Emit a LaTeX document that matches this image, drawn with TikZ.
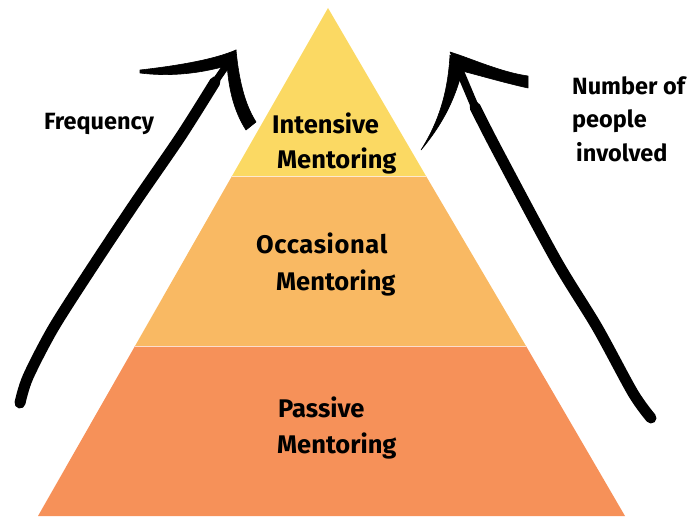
\documentclass[tikz,border=0pt]{standalone}
\usepackage{fontspec}
\setmainfont{Fira Sans}
\definecolor{topc}{RGB}{251,217,99}
\definecolor{midc}{RGB}{249,185,99}
\definecolor{botc}{RGB}{246,145,89}
\tikzset{
  lbl/.style={anchor=base west, inner sep=0pt, font=\fontsize{25.5}{30}\selectfont\bfseries},
  side/.style={anchor=base west, inner sep=0pt, font=\fontsize{23.5}{28}\selectfont\bfseries},
  brush/.style={line width=11pt, line cap=round, line join=round, black},
  barb/.style={fill=black, draw=black, line width=0.6pt, line join=round}
}
\begin{document}
\begin{tikzpicture}[x=1pt,y=-1pt]
\useasboundingbox (0,0) rectangle (687,516);
% pyramid layers
\coordinate (apex) at (328,8);
\coordinate (a1) at (232,176); \coordinate (b1) at (426,176);
\coordinate (a2) at (135,346); \coordinate (b2) at (526,346);
\coordinate (a3) at (38,516); \coordinate (b3) at (625,516);
\fill[topc] (apex) -- (b1) -- (a1) -- cycle;
\fill[midc] (a1) -- (b1) -- (b2) -- (a2) -- cycle;
\fill[botc] (a2) -- (b2) -- (b3) -- (a3) -- cycle;
\draw[white!70!midc, line width=0.8pt] (a1) -- (b1);
\draw[white!70!botc, line width=0.8pt] (a2) -- (b2);
% labels
\node[lbl] (i1) at (272,133) {Intensive};
\node[lbl] (i2) at (277,168) {Mentoring};
\node[lbl] (o1) at (256,253) {\addfontfeatures{LetterSpace=2.5}Occasional};
\node[lbl] (o2) at (276,290) {Mentoring};
\node[lbl] (p1) at (278,417) {Passive};
\node[lbl] (p2) at (277,453) {Mentoring};
\node[side] (fr) at (44,129) {Frequency};
\node[side] (n1) at (572,95) {Number of};
\node[side] (n2) at (572,128) {people};
\node[side] (n3) at (576,161) {involved};
% left arrow
\coordinate (lt) at (20,403);
\coordinate (l1) at (28,377);
\coordinate (l2) at (54,327);
\coordinate (l3) at (97,260);
\coordinate (l4) at (137,200);
\coordinate (l5) at (181,136);
\coordinate (l6) at (215,82);
\coordinate (ltip) at (233,56);
\draw[brush] plot[smooth, tension=0.5] coordinates {(lt) (l1) (l2) (l3) (l4) (l5) (l6)};
\draw[brush, line width=7pt] (l6) -- (ltip);
\fill[barb] (140,70) .. controls (175,66) and (213,60) .. (236,50)
  -- (233,64) .. controls (213,70) and (180,78) .. (140,73) -- cycle;
\fill[barb] (236,50) .. controls (238,70) and (242,100) .. (256,122)
  -- (246,130) .. controls (233,110) and (228,85) .. (227,62) -- cycle;
% right arrow
\coordinate (rt) at (651,418);
\coordinate (r1) at (633,393);
\coordinate (r2) at (597,327);
\coordinate (r3) at (556,260);
\coordinate (r5) at (497,150);
\coordinate (r6) at (475,107);
\coordinate (rtip) at (456,62);
\draw[brush] plot[smooth, tension=0.5] coordinates {(rt) (r1) (r2) (r3) (r5) (r6)};
\draw[brush, line width=8pt] (r6) -- (rtip);
\fill[barb] (450,52) .. controls (470,58) and (500,72) .. (528,76)
  -- (528,88) .. controls (505,83) and (478,75) .. (458,70) -- cycle;
\fill[barb] (450,55) .. controls (448,90) and (440,120) .. (421,150)
  .. controls (446,120) and (456,95) .. (463,68) -- cycle;
\end{tikzpicture}
\end{document}
